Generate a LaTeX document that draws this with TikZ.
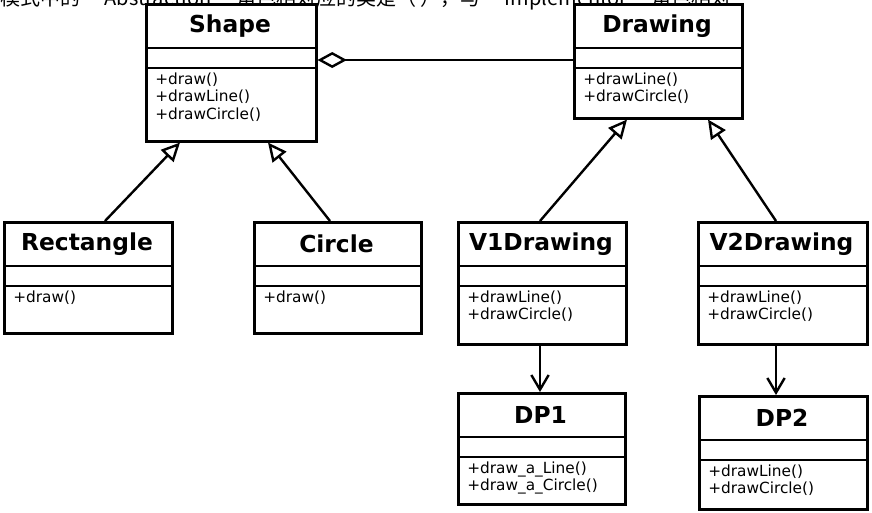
\documentclass[tikz,border=0pt]{standalone}
\usepackage{fontspec}
\setmainfont{DejaVu Sans}
\newfontfamily\cjk{Noto Sans CJK SC}
\usetikzlibrary{arrows.meta}
\tikzset{
    box/.style = {draw=black, fill=white, line width=1.9pt, rectangle, inner sep=0pt, anchor=north west},
    title/.style = {font=\bfseries\fontsize{17.5}{20}\selectfont, inner sep=0pt},
    ops/.style = {font=\fontsize{11.5}{12.8}\selectfont, align=left, anchor=north west, inner sep=0pt},
    inherit/.style = {line width=1.8pt, -{Triangle[open, length=14pt, width=13pt]}},
    assoc/.style = {line width=1.8pt, -{Straight Barb[length=11pt, width=13pt]}},
    aggr/.style = {line width=1.8pt, {Diamond[open, length=22pt, width=12pt]}-}
}
% class box: name, left, top, right, bottom, title, operations
\newcommand{\umlbox}[7]{
    \node[box, minimum width={(#4-#2)*0.75pt}, minimum height={(#5-#3)*0.75pt}] (#1) at (#2,#3) {};
    \node[title] (#1-t) at ({(#2+#4)/2},{#3+23}) {#6};
    \draw[line width=1.9pt] (#1.west |- 0,{#3+45}) -- (#1.east |- 0,{#3+45});
    \draw[line width=1.9pt] (#1.west |- 0,{#3+65}) -- (#1.east |- 0,{#3+65});
    \node[ops] (#1-o) at ({#2+10},{#3+70}) {#7};
}
\begin{document}
\begin{tikzpicture}[x=0.75pt, y=-0.75pt]
    \useasboundingbox (0,0) rectangle (872,512);
    \begin{scope}
        \clip (0,0) rectangle (872,512);
        \node[anchor=west, inner sep=0pt, font=\cjk\fontsize{15}{16}\selectfont] (q) at (0,-1)
            {模式中的 “Abstraction” 角色相对应的类是（ ），与 “Implementor” 角色相对};
    \end{scope}

    \umlbox{shape}{145}{3}{315}{140}{Shape}{+draw()\\+drawLine()\\+drawCircle()}
    \umlbox{drawing}{573}{3}{741}{117}{Drawing}{+drawLine()\\+drawCircle()}
    \umlbox{rect}{3}{221}{171}{332}{Rectangle}{+draw()}
    \umlbox{circ}{253}{221}{420}{332}{Circle}{+draw()}
    \umlbox{vone}{457}{221}{625}{343}{V1Drawing}{+drawLine()\\+drawCircle()}
    \umlbox{vtwo}{697}{221}{866}{343}{V2Drawing}{+drawLine()\\+drawCircle()}
    \umlbox{dpone}{457}{392}{624}{503}{DP1}{+draw\_a\_Line()\\+draw\_a\_Circle()}
    \umlbox{dptwo}{698}{395}{866}{508}{DP2}{+drawLine()\\+drawCircle()}

    % connectors
    \draw[aggr] (shape.east |- 0,60) -- (drawing.west |- 0,60);
    \draw[inherit] (rect.north -| 105,0) -- (shape.south -| 180,0);
    \draw[inherit] (circ.north -| 330,0) -- (shape.south -| 268,0);
    \draw[inherit] (vone.north -| 540,0) -- (drawing.south -| 627,0);
    \draw[inherit] (vtwo.north -| 776,0) -- (drawing.south -| 708,0);
    \draw[assoc] (vone.south -| 540,0) -- (dpone.north -| 540,0);
    \draw[assoc] (vtwo.south -| 776,0) -- (dptwo.north -| 776,0);
\end{tikzpicture}
\end{document}
